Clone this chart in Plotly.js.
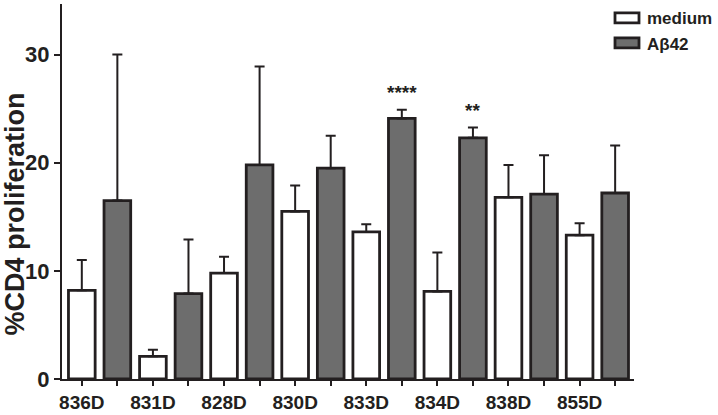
<!DOCTYPE html>
<html>
<head>
<meta charset="utf-8">
<script src="https://cdn.plot.ly/plotly-3.0.1.min.js"></script>
<style>html,body{margin:0;padding:0;background:#fff;}#chart{width:718px;height:415px;}</style>
</head>
<body>
<div id="chart"></div>
<script>
const categories = ['836D','831D','828D','830D','833D','834D','838D','855D'];
const mediumMean = [8.2, 2.1, 9.8, 15.5, 13.6, 8.1, 16.8, 13.3];
const mediumErr  = [2.8, 0.6, 1.5, 2.4, 0.7, 3.6, 3.0, 1.1];
const abMean     = [16.5, 7.9, 19.8, 19.5, 24.1, 22.3, 17.1, 17.2];
const abErr      = [13.5, 5.0, 9.1, 3.0, 0.8, 0.95, 3.6, 4.4];
const significance = ['', '', '', '', '****', '**', '', ''];
const yTicks = [0, 10, 20, 30];

const ink = '#231f20';
const xMed = categories.map((c, i) => 2 * i);
const xAb = categories.map((c, i) => 2 * i + 1);

const tickvals = [];
const ticktext = [];
categories.forEach((c, i) => {
  tickvals.push(2 * i, 2 * i + 1);
  ticktext.push(c, '');
});

const traces = [
  {
    type: 'bar', name: 'medium', x: xMed, y: mediumMean, width: 0.75,
    marker: {color: '#ffffff', line: {color: ink, width: 2.8}},
    error_y: {type: 'data', array: mediumErr, arrayminus: mediumErr.map(() => 0), symmetric: false,
              color: ink, thickness: 2, width: 5}
  },
  {
    type: 'bar', name: 'A\u03B242', x: xAb, y: abMean, width: 0.75,
    marker: {color: '#6d6d6d', line: {color: ink, width: 2.8}},
    error_y: {type: 'data', array: abErr, arrayminus: abErr.map(() => 0), symmetric: false,
              color: ink, thickness: 2, width: 5}
  }
];

const annotations = [];
significance.forEach((s, i) => {
  if (s) {
    annotations.push({
      x: xAb[i], y: abMean[i] + abErr[i], xref: 'x', yref: 'y',
      text: s, showarrow: false, yanchor: 'bottom', yshift: 5,
      font: {family: 'Liberation Sans, Arial, sans-serif', size: 19, color: ink, weight: 'bold'}
    });
  }
});
annotations.push({
  xref: 'paper', yref: 'paper', x: -0.083, y: 0.44, textangle: -90,
  text: '<b>%CD4 proliferation</b>', showarrow: false, xanchor: 'center', yanchor: 'middle',
  font: {family: 'Liberation Sans, Arial, sans-serif', size: 27, color: ink}
});

const layout = {
  width: 718, height: 415,
  margin: {l: 62, r: 78, t: 0, b: 36},
  paper_bgcolor: '#ffffff', plot_bgcolor: '#ffffff',
  barmode: 'overlay',
  font: {family: 'Liberation Sans, Arial, sans-serif', color: ink},
  xaxis: {
    range: [-0.557, 15.53], tickmode: 'array', tickvals: tickvals, ticktext: ticktext,
    showgrid: false, zeroline: false, showline: true, linecolor: ink, linewidth: 2,
    ticks: 'outside', ticklen: 5, tickwidth: 2, tickcolor: ink,
    tickfont: {size: 19, color: ink, weight: 'bold'}, automargin: false, fixedrange: true
  },
  yaxis: {
    range: [0, 34.68], tickmode: 'array', tickvals: yTicks,
    showgrid: false, zeroline: false, showline: true, linecolor: ink, linewidth: 2,
    ticks: 'outside', ticklen: 6, tickwidth: 2, tickcolor: ink,
    tickfont: {size: 22, color: ink, weight: 'bold'}, automargin: false, fixedrange: true
  },
  showlegend: true,
  legend: {
    x: 0.953, y: 1.01, xanchor: 'left', yanchor: 'top',
    font: {size: 17, color: ink, weight: 'bold'}, bgcolor: 'rgba(0,0,0,0)',
    tracegroupgap: 0, itemsizing: 'constant'
  },
  annotations: annotations
};

Plotly.newPlot('chart', traces, layout, {displayModeBar: false, staticPlot: true}).then(gd => {
  // widen legend swatches to the reference's wide rectangles
  gd.querySelectorAll('.legend .legendpoints path').forEach(p => {
    p.setAttribute('d', 'M12,5H-12V-5H12Z');
    p.style.strokeWidth = '2.8px';
  });
});
</script>
</body>
</html>
